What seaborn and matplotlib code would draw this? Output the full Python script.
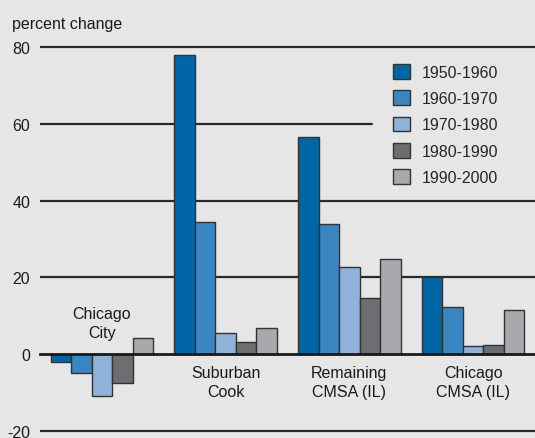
import matplotlib
matplotlib.use("Agg")
import matplotlib.pyplot as plt
import pandas as pd
import seaborn as sns

# данные
regions = ["Chicago City", "Suburban Cook", "Remaining CMSA (IL)", "Chicago CMSA (IL)"]
region_labels = ["Chicago\nCity", "Suburban\nCook", "Remaining\nCMSA (IL)", "Chicago\nCMSA (IL)"]
periods = ["1950-1960", "1960-1970", "1970-1980", "1980-1990", "1990-2000"]
change_1950 = [-2.0, 77.9, 56.5, 20.2]
change_1960 = [-5.0, 34.5, 34.0, 12.3]
change_1970 = [-10.8, 5.6, 22.7, 2.1]
change_1980 = [-7.5, 3.2, 14.6, 2.3]
change_1990 = [4.1, 6.9, 24.8, 11.6]
y_ticks = [-20, 0, 20, 40, 60, 80]

colors = ["#0066a6", "#3a86c0", "#8fb2d9", "#6d6e71", "#a7a9ac"]
bg = "#e6e6e6"

rows = []
for period, values in zip(periods, [change_1950, change_1960, change_1970,
                                    change_1980, change_1990]):
    for region, v in zip(regions, values):
        rows.append({"region": region, "period": period, "change": v})
df = pd.DataFrame(rows)

sns.set_style("white")
plt.rcParams["font.family"] = ["Liberation Sans", "DejaVu Sans"]
plt.rcParams["axes.unicode_minus"] = False

fig = plt.figure(figsize=(5.35, 4.39), dpi=100, facecolor=bg)
ax = fig.add_axes([40 / 535, 5.1 / 439, 495 / 535, 387.8 / 439])
ax.set_facecolor(bg)

sns.barplot(data=df, x="region", y="change", hue="period", order=regions,
            hue_order=periods, palette=colors, saturation=1, width=0.83,
            edgecolor="#333333", linewidth=1, ax=ax, zorder=2)

ax.set_xlim(-0.5, 3.5)
ax.set_ylim(-20.5, 80.5)

# горизонтальные линии сетки (линия 60 прерывается у легенды)
for t in y_ticks:
    if t == 0:
        continue
    xmax = (372 - 40) / 495 if t == 60 else 1
    ax.axhline(t, xmax=xmax, color="#2a2a2a", lw=1.6, zorder=0.5)

# нулевая линия как нижняя ось с засечками между группами
for s in ["top", "right", "left"]:
    ax.spines[s].set_visible(False)
ax.spines["bottom"].set_position(("data", 0))
ax.spines["bottom"].set_color("#1a1a1a")
ax.spines["bottom"].set_linewidth(2)
ax.spines["bottom"].set_zorder(5)
ax.set_xticks(range(len(regions)))
ax.set_xticklabels([])
ax.set_xticks([i - 0.5 for i in range(len(regions) + 1)], minor=True)
ax.tick_params(axis="x", which="major", length=0)
ax.tick_params(axis="x", which="minor", direction="in", length=7,
               width=1, color="#1a1a1a")

ax.set_yticks(y_ticks)
ax.tick_params(axis="y", length=0, pad=7, labelsize=11.5, labelcolor="#1a1a1a")
ax.set_xlabel("")
ax.set_ylabel("")

# подписи регионов внутри графика
for i, lab in enumerate(region_labels):
    if i == 0:
        ax.text(i, 3.7, lab, ha="center", va="bottom", fontsize=11.5,
                color="#1a1a1a", linespacing=1.3)
    else:
        ax.text(i, -2.8, lab, ha="center", va="top", fontsize=11.5,
                color="#1a1a1a", linespacing=1.3)

handles, labels = ax.get_legend_handles_labels()
ax.legend(handles, labels, loc="upper left", bbox_to_anchor=(0.7125, 0.951),
          frameon=False, fontsize=11.5, borderpad=0, borderaxespad=0,
          handlelength=1.1, handleheight=1.05, handletextpad=0.69,
          labelspacing=0.65)

fig.text(12 / 535, 1 - 24 / 439, "percent change", ha="left", va="center",
         fontsize=11.5, color="#1a1a1a")

fig.savefig("out.png", dpi=100, facecolor=bg)
